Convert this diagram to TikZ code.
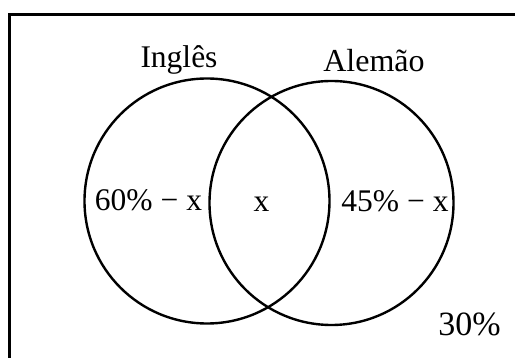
\documentclass[tikz,border=0pt]{standalone}
\usepackage{fontspec}
\setmainfont{Liberation Serif}
\begin{document}
\begin{tikzpicture}[x=1pt,y=-1pt,
  lbl/.style={inner sep=0pt,anchor=base},
  ring/.style={draw=black,line width=2.4pt}]
\useasboundingbox (0,0) rectangle (515,358);
\clip (0,0) rectangle (515,358);
\draw[line width=2.2pt] (9.5,14.5) rectangle (530,370);
\node[ring,circle,minimum size=245pt,inner sep=0pt] (L) at (207,201) {};
\node[ring,circle,minimum size=244pt,inner sep=0pt] (R) at (331.5,203) {};
\node[lbl,font=\fontsize{31.5}{34}\selectfont] (ti) at (179,68) {Inglês};
\node[lbl,font=\fontsize{32}{35}\selectfont] (ta) at (374,72) {Alemão};
\node[lbl,font=\fontsize{31.5}{35}\selectfont] (a) at (148.5,211) {60\% − x};
\node[lbl,font=\fontsize{31.5}{35}\selectfont] (b) at (261.5,212) {x};
\node[lbl,font=\fontsize{31.5}{35}\selectfont] (c) at (395,211.5) {45\% − x};
\node[lbl,font=\fontsize{34}{37}\selectfont] (d) at (469.5,336) {30\%};
\end{tikzpicture}
\end{document}
